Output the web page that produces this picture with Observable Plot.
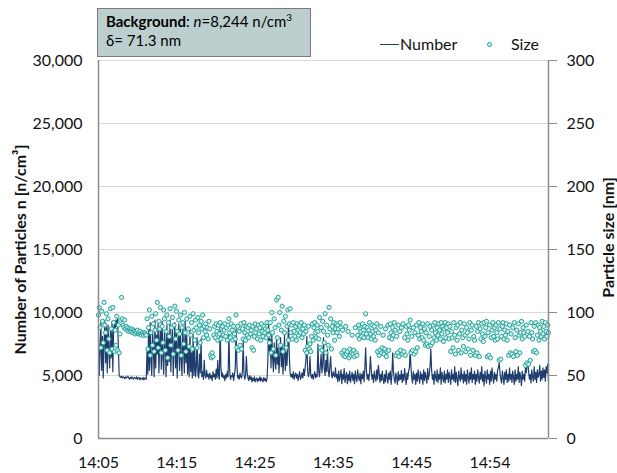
<!DOCTYPE html>
<html>
<head>
<meta charset="utf-8">
<script src="https://cdn.jsdelivr.net/npm/d3@7"></script>
<script src="https://cdn.jsdelivr.net/npm/@observablehq/plot@0.6"></script>
<style>
  body { margin: 0; background: #fff; }
  #chart { position: relative; width: 617px; height: 473px; font-family: Lato, sans-serif; color: #111; }
  #chart svg { display: block; }
  .note {
    position: absolute; left: 97px; top: 8px; width: 214px; height: 49px;
    box-sizing: border-box; background: #bccfce; border: 1px solid #7a7a7a;
    padding: 3px 8px; font-size: 15px; line-height: 19px; color: #000;
  }
  .note sup { font-size: 10px; line-height: 0; }
  .legend { position: absolute; top: 34px; left: 380px; font-size: 16px; height: 20px; }
  .legend span { position: absolute; top: 0; white-space: nowrap; }
  .legend .swatch-line { position: absolute; top: 10px; left: 0; width: 19px; height: 0; border-top: 1px solid #1f3d6c; }
  .legend .swatch-dot { position: absolute; top: 8px; left: 107px; width: 3px; height: 3px; border-radius: 50%; border: 1px solid #22a39a; background: #d4efec; }
</style>
</head>
<body>
<div id="chart">
  <div class="note"><b>Background</b>: <i>n</i>=8,244 n/cm<sup>3</sup><br>δ= 71.3 nm</div>
  <div class="legend">
    <div class="swatch-line"></div><span style="left:20px">Number</span>
    <div class="swatch-dot"></div><span style="left:131px">Size</span>
  </div>
</div>
<script>
// Time axis: minutes after 14:05, one reading of each quantity every 0.1 min
const xEnd = 56.6;
const xTickMinutes = [0, 9.85, 19.7, 29.55, 39.4, 49.25];
const xTickLabels = ["14:05", "14:15", "14:25", "14:35", "14:45", "14:54"];
const leftTicks = [0, 5000, 10000, 15000, 20000, 25000, 30000];
const sizeToCount = 100; // 300 nm on the right axis sits level with 30,000 n/cm³ on the left
const sampleStep = 0.1;

// Particle number concentration [n/cm³]
const numberValues = [
  8600, 5000, 6900, 9200, 5400, 8100, 4800, 7600, 9400, 6000, 8800, 5200, 9000, 7100, 5600, 8500, 6400, 9300, 5300, 8700,
  9100, 8600, 9400, 8900, 9500, 7200, 5000, 4900, 4850, 4950, 4800, 4900, 4850, 4750, 4900, 4800, 4850, 4950, 4800, 4700,
  4850, 4750, 4900, 4800, 4700, 4850, 4800, 4750, 4900, 4700, 4800, 4850, 4650, 4800, 4750, 4700, 4850, 4650, 4800, 4750,
  4700, 6900, 5100, 8800, 5400, 9200, 6100, 5000, 8500, 7300, 4900, 9400, 5600, 8200, 6700, 9100, 5200, 7800, 8900, 5500,
  9300, 6400, 5100, 8600, 7200, 4900, 9000, 5800, 8300, 6100, 9400, 5300, 7700, 8800, 5000, 6900, 9200, 5600, 8400, 4800,
  7500, 9100, 5400, 8700, 6300, 5000, 8900, 7100, 5200, 9300, 6000, 8200, 5100, 7400, 4900, 8600, 5300, 6800, 4800, 8300,
  5000, 7200, 4900, 5600, 8000, 5100, 4800, 6700, 5200, 7900, 4900, 5300, 4700, 6200, 5000, 4800, 5400, 4900, 5100, 4700,
  5200, 4800, 5000, 4600, 5300, 4900, 5100, 4700, 5500, 4800, 6200, 5000, 4700, 9000, 5600, 4900, 5200, 4800, 5000, 4600,
  5100, 4800, 5300, 4900, 8500, 5400, 4700, 5000, 4900, 5200, 4600, 5100, 5500, 8700, 6000, 4800, 5000, 4700, 5200, 4900,
  4800, 5300, 7800, 5100, 4700, 5000, 6500, 5200, 4800, 4600, 5000, 4700, 4900, 4500, 4800, 4600, 4900, 4500, 4700, 4800,
  4500, 4750, 4600, 4900, 4550, 4800, 4650, 4500, 4850, 4600, 4750, 4500, 4800, 6200, 9200, 6800, 7900, 5600, 8300, 6400,
  5300, 7600, 6100, 5500, 8100, 5900, 7200, 5200, 6600, 8000, 5700, 7400, 5100, 6300, 8200, 5400, 6900, 5800, 7100, 9200,
  6500, 5200, 4900, 5100, 4800, 5300, 4700, 5000, 5200, 4800, 5100, 4600, 5000, 5300, 4700, 4900, 5200, 4800, 5500, 5000,
  5700, 6300, 8100, 5400, 4900, 5200, 6500, 5000, 4800, 5100, 4700, 5000, 5300, 4800, 5100, 4900, 7500, 5300, 4900, 5800,
  6700, 5200, 5900, 8000, 5500, 5000, 6200, 5300, 7100, 5400, 4900, 5700, 6500, 5100, 4800, 5300, 5000, 4900, 5600, 4800,
  5100, 4500, 5350, 4600, 4950, 5450, 4350, 5100, 4700, 5550, 4450, 4900, 5250, 4350, 5100, 4600, 5350, 4450, 4900, 5250,
  4600, 5100, 4350, 5350, 4750, 4500, 5450, 4850, 4600, 5200, 4350, 5100, 4750, 5350, 4500, 5600, 7200, 5400, 4700, 5100,
  4600, 5200, 6500, 5500, 4700, 5100, 4450, 5350, 4850, 4550, 5450, 4700, 5800, 5200, 4450, 5100, 4600, 5350, 4700, 4350,
  5100, 4500, 5400, 4800, 4400, 5200, 4700, 5350, 4300, 5000, 6800, 5300, 4700, 4400, 5200, 4850, 4300, 5300, 4600, 5050,
  4700, 5400, 4450, 5100, 4600, 5550, 4850, 4300, 5200, 4700, 5350, 5600, 7000, 5700, 4800, 4400, 5300, 4700, 5100, 4300,
  5200, 4550, 5450, 4850, 4400, 5300, 4700, 5100, 4300, 5450, 4600, 5250, 4850, 4400, 5550, 4700, 5100, 5700, 7100, 5400,
  4700, 5100, 4300, 5350, 4850, 4550, 5450, 4450, 5100, 4700, 5600, 4300, 5250, 4850, 4500, 5350, 4400, 5100, 4700, 5450,
  4450, 5250, 4850, 4300, 5450, 4700, 5100, 4550, 5700, 4450, 5250, 4700, 4200, 5350, 4850, 4550, 5600, 4700, 5100, 4400,
  5350, 4550, 5100, 4300, 5450, 4850, 4400, 5250, 4700, 5600, 4450, 5100, 4700, 5350, 4300, 5100, 4550, 5450, 4850, 4400,
  5250, 4700, 5700, 4550, 5100, 4200, 5350, 4850, 4400, 5450, 4700, 5100, 4300, 5350, 4550, 5600, 4850, 4400, 5250, 4700,
  5100, 4550, 5450, 5650, 6000, 5200, 4700, 4400, 5350, 4850, 4300, 5250, 4700, 5450, 4450, 5100, 4550, 5600, 4700, 5100,
  4450, 5350, 4850, 4300, 5450, 4550, 5100, 4700, 5700, 4450, 5250, 4850, 4200, 5350, 4700, 5100, 4550, 5600, 5200, 5800,
  6100, 5300, 4700, 5100, 4400, 5450, 4850, 4550, 5700, 4700, 5250, 4450, 5450, 4850, 5100, 5800, 4550, 5350, 4700, 5600,
  4850, 5450, 4550, 5700, 5200, 5900, 4500
];

// Particle size [nm]
const sizeValues = [
  98, 104, 88, 72, 101, 93, 76, 108, 90, 84, 99, 70, 95, 79, 68, 103, 87, 71, 104, 92,
  69, 86, 74, 97, 70, 90, 68, 83, 94, 112, 95, 90, 88, 94, 87, 89, 86, 88, 85, 87,
  86, 85, 87, 84, 86, 85, 83, 85, 84, 86, 83, 84, 85, 83, 82, 84, 83, 82, 84, 83,
  82, 95, 71, 88, 102, 66, 84, 97, 74, 91, 69, 86, 99, 78, 108, 72, 93, 87, 104, 68,
  89, 76, 102, 95, 70, 85, 98, 64, 92, 81, 103, 74, 88, 96, 67, 90, 105, 79, 101, 85,
  70, 94, 83, 98, 66, 88, 92, 75, 100, 84, 69, 95, 110, 87, 73, 97, 82, 92, 71, 99,
  86, 78, 94, 88, 72, 96, 84, 90, 76, 93, 87, 98, 80, 89, 85, 91, 82, 88, 79, 93,
  87, 66, 64, 68, 65, 82, 89, 80, 91, 85, 78, 90, 83, 92, 79, 87, 89, 82, 86, 91,
  81, 88, 78, 90, 95, 84, 80, 91, 86, 78, 89, 83, 79, 98, 72, 89, 70, 85, 74, 91,
  71, 87, 79, 92, 84, 78, 89, 82, 88, 80, 90, 83, 86, 72, 89, 70, 81, 91, 84, 87,
  79, 90, 83, 88, 78, 91, 85, 81, 89, 84, 87, 80, 92, 86, 82, 76, 92, 68, 100, 84,
  71, 95, 88, 66, 110, 80, 112, 90, 100, 74, 86, 105, 69, 93, 84, 97, 72, 89, 102, 78,
  91, 103, 84, 90, 79, 92, 85, 81, 89, 78, 91, 86, 82, 90, 84, 92, 80, 87, 83, 90,
  70, 85, 68, 73, 89, 71, 75, 69, 81, 91, 78, 88, 92, 84, 80, 90, 85, 79, 96, 72,
  88, 70, 93, 85, 76, 99, 68, 90, 82, 74, 104, 87, 95, 71, 89, 84, 92, 78, 87, 91,
  84, 90, 87, 81, 92, 88, 68, 86, 66, 70, 65, 89, 67, 69, 85, 64, 71, 66, 68, 82,
  67, 70, 65, 88, 68, 66, 82, 90, 79, 87, 85, 81, 91, 86, 80, 89, 99, 83, 88, 80,
  86, 92, 83, 79, 90, 85, 81, 89, 78, 86, 91, 69, 84, 66, 70, 89, 68, 72, 82, 67,
  71, 87, 65, 69, 90, 70, 80, 91, 84, 79, 88, 82, 92, 86, 66, 81, 68, 90, 65, 85,
  70, 88, 67, 91, 69, 80, 66, 89, 83, 78, 90, 86, 94, 68, 81, 70, 88, 67, 84, 69,
  90, 72, 82, 92, 79, 88, 85, 80, 91, 78, 87, 74, 84, 75, 91, 73, 81, 89, 74, 86,
  76, 90, 80, 92, 84, 78, 88, 82, 91, 86, 79, 92, 83, 89, 77, 87, 92, 80, 88, 84,
  91, 79, 89, 69, 85, 80, 72, 92, 82, 67, 88, 78, 90, 70, 83, 92, 68, 86, 80, 73,
  91, 82, 69, 88, 84, 71, 79, 92, 66, 86, 90, 70, 81, 78, 66, 89, 68, 85, 92, 65,
  87, 79, 91, 83, 77, 92, 81, 88, 93, 65, 84, 66, 90, 64, 80, 86, 92, 81, 88, 78,
  90, 84, 79, 92, 62, 87, 63, 81, 89, 92, 79, 86, 82, 91, 78, 85, 66, 90, 68, 83,
  67, 88, 65, 92, 80, 69, 86, 66, 91, 82, 68, 84, 93, 79, 88, 84, 81, 58, 90, 60,
  85, 59, 81, 62, 92, 84, 79, 69, 89, 70, 92, 68, 82, 90, 78, 88, 85, 81, 93, 83,
  89, 79, 92, 85, 81, 90, 84
];

const leftTitle = "Number of Particles n [n/cm³]";
const rightTitle = "Particle size [nm]";

const numberData = numberValues.map((n, i) => ({t: i * sampleStep, n}));
const sizeData = sizeValues.map((s, j) => ({t: j * sampleStep, s}));
const axisGray = "#8c8c8c";

const chart = Plot.plot({
  width: 617,
  height: 473,
  marginTop: 60,
  marginLeft: 98,
  marginRight: 69,
  marginBottom: 35,
  style: {fontFamily: "Lato, sans-serif", fontSize: "16px", color: "#111", background: "#fff", overflow: "visible"},
  x: {domain: [0, xEnd]},
  y: {domain: [0, 30000]},
  marks: [
    Plot.gridY(leftTicks, {stroke: "#d9d9d9", strokeOpacity: 1}),
    Plot.axisY(leftTicks, {anchor: "left", tickSize: 0, tickPadding: 16, tickFormat: d3.format(","), label: null}),
    Plot.axisY(leftTicks, {anchor: "right", tickSize: 8, tickPadding: 10, stroke: axisGray, tickFormat: d => d / sizeToCount, label: null}),
    Plot.axisX(xTickMinutes, {anchor: "bottom", tickSize: 0, tickPadding: 18, tickFormat: d => xTickLabels[xTickMinutes.indexOf(d)], label: null}),
    Plot.line(numberData, {x: "t", y: "n", stroke: "#1f3d6c", strokeWidth: 1.2}),
    Plot.dot(sizeData, {x: "t", y: d => d.s * sizeToCount, r: 2.1, stroke: "#22a39a", fill: "#d4efec", strokeWidth: 1}),
    Plot.ruleX([0], {stroke: axisGray, strokeWidth: 1.5}),
    Plot.ruleX([xEnd], {stroke: axisGray, strokeWidth: 1.5}),
    Plot.ruleY([0], {stroke: axisGray, strokeWidth: 1.5}),
    Plot.text([leftTitle], {frameAnchor: "left", textAnchor: "middle", rotate: -90, dx: -78, fontWeight: "bold", fontSize: 16}),
    Plot.text([rightTitle], {frameAnchor: "right", textAnchor: "middle", rotate: -90, dx: 60, dy: -12, fontWeight: "bold", fontSize: 16})
  ]
});

document.getElementById("chart").prepend(chart);
</script>
</body>
</html>
